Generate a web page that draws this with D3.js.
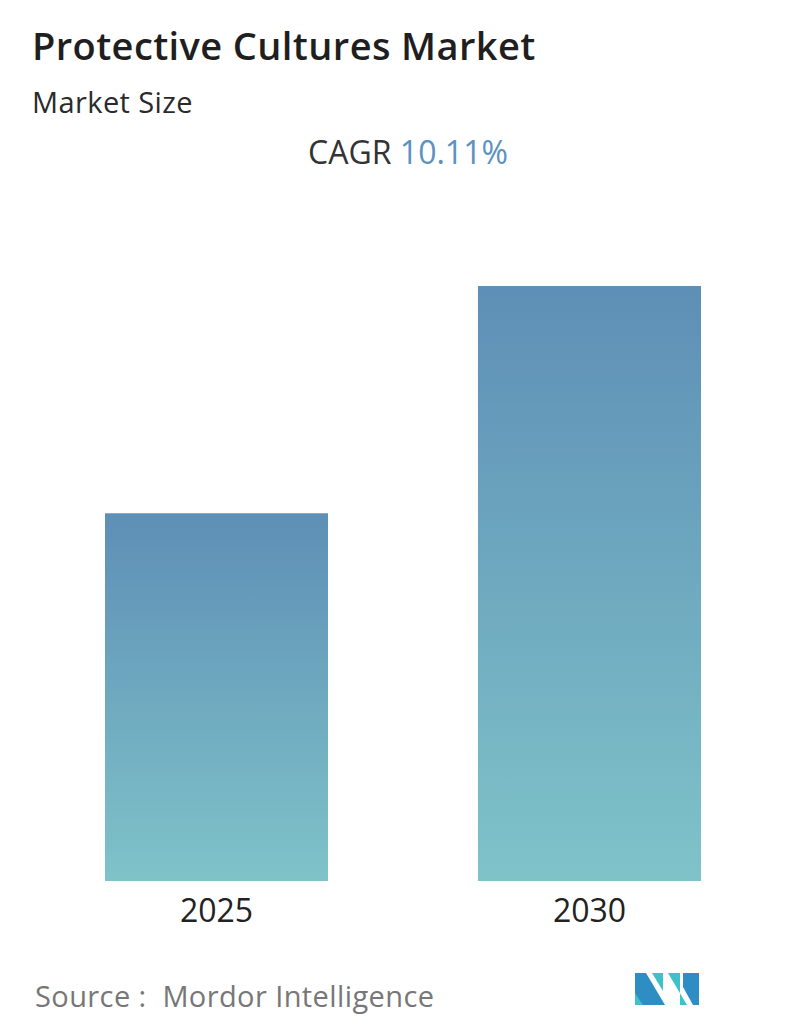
<!DOCTYPE html>
<html>
<head>
<style>
  body { margin: 0; background: #fff; }
  text { font-family: "Open Sans", sans-serif; }
</style>
</head>
<body>
<div id="chart"></div>
<script src="https://d3js.org/d3.v7.min.js"></script>
<script>
  // Market size, relative (CAGR 10.11% over 5 years)
  const years = ["2025", "2030"];
  const values = [1.0, 1.618];
  const cagr = "10.11%";

  const width = 796, height = 1034;
  const svg = d3.select("#chart").append("svg")
    .attr("width", width).attr("height", height);

  const grad = svg.append("defs").append("linearGradient")
    .attr("id", "barGrad").attr("x1", 0).attr("y1", 0).attr("x2", 0).attr("y2", 1);
  grad.append("stop").attr("offset", "0%").attr("stop-color", "#5e8fb6");
  grad.append("stop").attr("offset", "100%").attr("stop-color", "#7fc3c9");

  svg.append("text").attr("x", 32).attr("y", 60)
    .attr("font-size", 38).attr("font-weight", 600).attr("fill", "#1f1f1f")
    .attr("letter-spacing", 0.4)
    .text("Protective Cultures Market");
  svg.append("text").attr("x", 32).attr("y", 113)
    .attr("font-size", 29).attr("fill", "#2a2a2a").attr("letter-spacing", 0.4)
    .text("Market Size");

  const cg = svg.append("text").attr("x", 408).attr("y", 164)
    .attr("text-anchor", "middle").attr("font-size", 32);
  cg.append("tspan").attr("fill", "#333").text("CAGR ");
  cg.append("tspan").attr("fill", "#5b92c0").text(cagr);

  const x = d3.scaleBand().domain(years).range([105, 701]).paddingInner(0.402).paddingOuter(0);
  const y = d3.scaleLinear().domain([0, d3.max(values)]).range([881, 286]);

  svg.selectAll("rect.bar").data(years).enter().append("rect")
    .attr("class", "bar")
    .attr("x", d => x(d))
    .attr("width", x.bandwidth())
    .attr("y", (d, i) => y(values[i]))
    .attr("height", (d, i) => 881 - y(values[i]))
    .attr("fill", "url(#barGrad)");

  const axis = svg.append("g").attr("transform", "translate(0,881)")
    .call(d3.axisBottom(x).tickSize(0).tickPadding(18));
  axis.select(".domain").remove();
  axis.selectAll("text").attr("font-size", 32).attr("fill", "#222")
    .attr("font-family", "'Open Sans', sans-serif").attr("dy", "0.71em");

  svg.append("text").attr("x", 35).attr("y", 1007)
    .attr("font-size", 29).attr("fill", "#777").attr("letter-spacing", 0.4)
    .attr("xml:space", "preserve")
    .text("Source :  Mordor Intelligence");

  // logo
  const logo = svg.append("g").attr("transform", "translate(635,973)");
  logo.append("polygon").attr("points", "0,0 11,0 30,32 0,32").attr("fill", "#2e8ec4");
  logo.append("polygon").attr("points", "0,20 0,32 8,32").attr("fill", "#3fc1c9");
  logo.append("polygon").attr("points", "17,0 28,0 28,18").attr("fill", "#3fc1c9");
  logo.append("polygon").attr("points", "33,0 45,0 45,32 52,32 33,0").attr("fill", "#3fc1c9");
  logo.append("polygon").attr("points", "48,0 64,0 64,32 58,32 48,14").attr("fill", "#2e8ec4");
</script>
</body>
</html>
